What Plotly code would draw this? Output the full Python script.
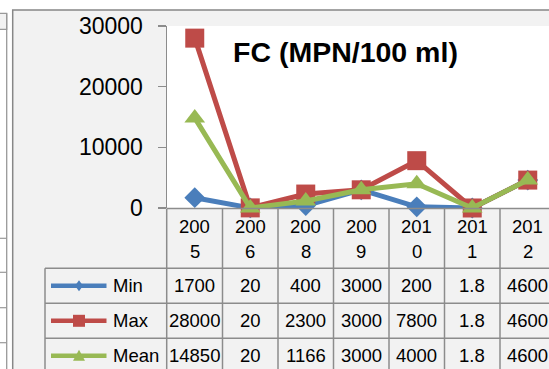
import plotly.graph_objects as go

# ---------------- data ----------------
categories = ["2005", "2006", "2008", "2009", "2010", "2011", "2012"]
min_vals = [1700, 20, 400, 3000, 200, 1.8, 4600]
max_vals = [28000, 20, 2300, 3000, 7800, 1.8, 4600]
mean_vals = [14850, 20, 1166, 3000, 4000, 1.8, 4600]
series_names = ["Min", "Max", "Mean"]
y_ticks = [0, 10000, 20000, 30000]
title_text = "FC (MPN/100 ml)"

# ---------------- layout helpers ----------------
W, H = 549, 369
L, R, T, B = 167, 0, 26, 161
PW, PH = W - L - R, H - T - B
COL = 55.5  # pixel width of a category column


def px(p):
    return (p - L) / PW


def py(p):
    return (H - B - p) / PH


FONT = "Liberation Sans, Arial, sans-serif"
GRID = "#8c8c8c"
colors = ["#4a7ebb", "#be4b48", "#98b954"]
symbols = ["diamond", "square", "triangle-up"]
msizes = [16, 19, 18]
series = [min_vals, max_vals, mean_vals]

fig = go.Figure()
for name, vals, c, s, ms in zip(series_names, series, colors, symbols, msizes):
    fig.add_trace(go.Scatter(
        x=categories, y=vals, name=name, mode="lines+markers",
        line=dict(color=c, width=5),
        marker=dict(symbol=s, size=ms, color=c, line=dict(width=0)),
        cliponaxis=False, showlegend=False, hoverinfo="skip"))

shapes = []
# chart area background
shapes.append(dict(type="rect", xref="paper", yref="paper", layer="below",
                   x0=px(12.7), x1=px(620), y0=py(10), y1=py(430),
                   fillcolor="#f2f2f2", line=dict(color="#878787", width=1.5)))
# plot area (white)
shapes.append(dict(type="rect", xref="paper", yref="paper", layer="below",
                   x0=0, x1=1.05, y0=0, y1=1,
                   fillcolor="white", line=dict(width=0)))
# partial neighbouring object at far left
shapes.append(dict(type="rect", xref="paper", yref="paper", layer="below",
                   x0=px(-10), x1=px(6.7), y0=py(13.3), y1=py(29.3),
                   fillcolor="#f2f2f2", line=dict(color="#999999", width=1.2)))
shapes.append(dict(type="line", xref="paper", yref="paper", layer="below",
                   x0=px(6.7), x1=px(6.7), y0=py(13.3), y1=py(430),
                   line=dict(color="#999999", width=1.3)))
for yy in [238.3, 272.3, 307.7, 342.7]:
    shapes.append(dict(type="line", xref="paper", yref="paper", layer="below",
                       x0=px(-10), x1=px(6.7), y0=py(yy), y1=py(yy),
                       line=dict(color="#999999", width=1.2)))

# data table grid
row_lines = [268.3, 303.3, 338.3, 373.3]
shapes.append(dict(type="line", xref="paper", yref="paper",
                   x0=0, x1=px(620), y0=py(208.5), y1=py(208.5),
                   line=dict(color=GRID, width=1.5)))
for yy in row_lines:
    shapes.append(dict(type="line", xref="paper", yref="paper",
                       x0=px(45), x1=px(620), y0=py(yy), y1=py(yy),
                       line=dict(color=GRID, width=1.5)))
shapes.append(dict(type="line", xref="paper", yref="paper",
                   x0=px(45), x1=px(45), y0=py(268.3), y1=py(430),
                   line=dict(color=GRID, width=1.5)))
shapes.append(dict(type="line", xref="paper", yref="paper",
                   x0=px(166.7), x1=px(166.7), y0=py(208.5), y1=py(430),
                   line=dict(color=GRID, width=1.5)))
for i in range(1, len(categories)):
    shapes.append(dict(type="line", xref="x", yref="paper",
                       x0=i - 0.5, x1=i - 0.5, y0=py(208.5), y1=py(430),
                       line=dict(color=GRID, width=1.5)))

row_centers = [285.8, 320.8, 355.8]
# legend keys
key_paths = [
    "M 0,-5.5 L 4,0 L 0,5.5 L -4,0 Z",
    "M -6,-6 L 6,-6 L 6,6 L -6,6 Z",
    "M -6,-5 L 6,-5 L 0,6 Z",
]
for c, yc, pth in zip(colors, row_centers, key_paths):
    shapes.append(dict(type="line", xref="paper", yref="paper",
                       x0=px(51), x1=px(106.5), y0=py(yc), y1=py(yc),
                       line=dict(color=c, width=4.5)))
    shapes.append(dict(type="path", xref="paper", yref="paper",
                       xsizemode="pixel", ysizemode="pixel",
                       xanchor=px(79), yanchor=py(yc), path=pth,
                       fillcolor=c, line=dict(width=0)))

annotations = []
annotations.append(dict(text="<b>" + title_text + "</b>", xref="paper", yref="paper",
                        x=px(231), y=py(52), xanchor="left", yanchor="middle",
                        showarrow=False, font=dict(family=FONT, size=28.5, color="#000")))
TF = dict(family=FONT, size=18.5, color="#000")
for i, cat in enumerate(categories):
    annotations.append(dict(text=cat[:3], xref="x", yref="paper", x=i, y=py(226),
                            xanchor="center", yanchor="middle", showarrow=False, font=TF))
    annotations.append(dict(text=cat[3:], xref="x", yref="paper", x=i, y=py(251.7),
                            xanchor="center", yanchor="middle", showarrow=False, font=TF))
for name, vals, yc in zip(series_names, series, row_centers):
    annotations.append(dict(text=name, xref="paper", yref="paper", x=px(110.5), y=py(yc),
                            xanchor="left", yanchor="middle", showarrow=False, font=TF))
    for i, v in enumerate(vals):
        annotations.append(dict(text=f"{v:g}", xref="x", yref="paper", x=i, y=py(yc),
                                xanchor="center", yanchor="middle", showarrow=False, font=TF))

fig.update_layout(
    width=W, height=H,
    margin=dict(l=L, r=R, t=T, b=B, pad=0),
    paper_bgcolor="white", plot_bgcolor="white",
    shapes=shapes, annotations=annotations,
    showlegend=False,
    xaxis=dict(type="category", range=[-0.5, -0.5 + PW / COL], showticklabels=False,
               showgrid=False, zeroline=False, showline=False, ticks="", fixedrange=True),
    yaxis=dict(range=[0, 30000], tickvals=y_ticks, ticktext=[str(t) for t in y_ticks],
               showgrid=False, zeroline=False, showline=True, linecolor=GRID, linewidth=1.5,
               ticks="outside", ticklen=8, tickcolor=GRID, tickwidth=1.5,
               ticklabelstandoff=10, fixedrange=True,
               tickfont=dict(family=FONT, size=23, color="#000")),
)

fig.write_html("out.html", config={"displayModeBar": False, "staticPlot": True},
               post_script="document.body.style.margin='0';document.body.style.overflow='hidden';")
